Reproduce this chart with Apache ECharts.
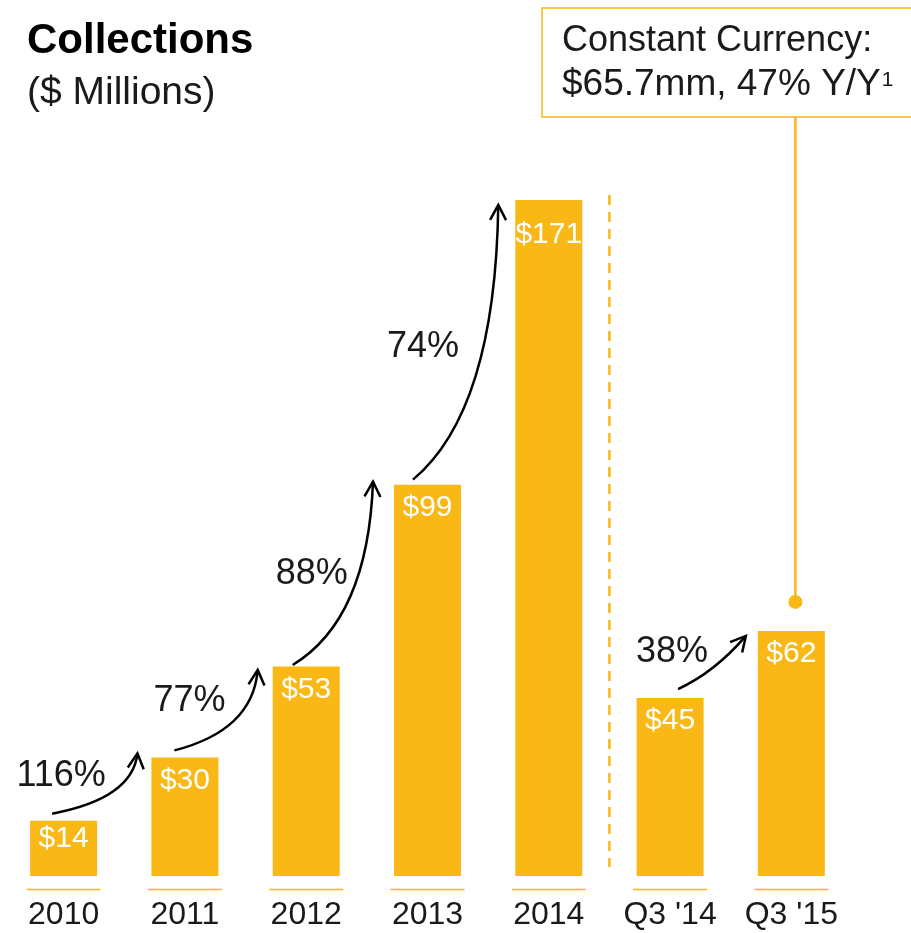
<!DOCTYPE html>
<html>
<head>
<meta charset="utf-8">
<script src="https://cdn.jsdelivr.net/npm/echarts@6/dist/echarts.min.js"></script>
<style>
  html, body { margin: 0; padding: 0; background: #ffffff; }
  #chart { width: 911px; height: 933px; }
</style>
</head>
<body>
<div id="chart"></div>
<script>
// Collections by period ($ millions)
const categories = ['2010', '2011', '2012', '2013', '2014', "Q3 '14", "Q3 '15"];
const collections = [14, 30, 53, 99, 171, 45, 62];

// Growth arrows: from which bar to the next one, and the growth they state
const growthFrom = [0, 1, 2, 3, 5];
const growthLabels = ['116%', '77%', '88%', '74%', '38%'];

// Constant-currency callout attached to the last bar
const calloutLines = ['Constant Currency:', '$65.7mm, 47% Y/Y'];
const calloutNote = '1';

const ORANGE = '#F9B815';
const INK = '#1a1a1a';
const FONT = "'Helvetica Neue', 'Liberation Sans', Arial, sans-serif";

const chart = echarts.init(document.getElementById('chart'));

// Per-bar label nudges for the shortest and tallest bars
const labelDistance = [3, 8, 8, 8, 20, 8, 8];

chart.setOption({
  animation: false,
  grid: { left: 3, right: 59, top: 85.4, bottom: 57 },
  xAxis: {
    type: 'category',
    data: categories,
    axisLine: { show: false },
    axisTick: { show: false },
    axisLabel: { fontSize: 32, color: INK, margin: 23, fontFamily: FONT }
  },
  yAxis: { type: 'value', min: 0, max: 200, show: false },
  series: [
    {
      type: 'bar',
      barWidth: 67,
      itemStyle: { color: ORANGE },
      data: collections.map((v, i) => ({ value: v, label: { distance: labelDistance[i] } })),
      label: {
        show: true,
        position: 'insideTop',
        formatter: p => '$' + p.value,
        color: '#ffffff',
        fontSize: 30,
        fontFamily: FONT,
        fontWeight: 300
      }
    },
    {
      // thin rule under each bar
      type: 'custom',
      silent: true,
      data: collections.map((v, i) => [i, 0]),
      renderItem: (params, api) => {
        const p = api.coord([api.value(0), 0]);
        return {
          type: 'line',
          shape: { x1: p[0] - 37, y1: p[1] + 13.5, x2: p[0] + 37, y2: p[1] + 13.5 },
          style: { stroke: ORANGE, lineWidth: 1.5 }
        };
      }
    }
  ]
});

const px = (i, v) => chart.convertToPixel({ seriesIndex: 0 }, [i, v]);
const barHalf = 33.5;

// Layout of each growth arrow relative to its two bars
const arrowLayout = [
  { sx: -11.5, sy: -7,   ex: -14, ey: -4,  cx: -5,  k: 0.25, lx: 9,  ly: -38 },
  { sx: -10.5, sy: -7,   ex: -15, ey: 3.5, cx: -5,  k: 0.25, lx: 15, ly: -49 },
  { sx: -13.5, sy: -1.5, ex: -21, ey: -3,  cx: -5,  k: 0.25, lx: 19, ly: -91 },
  { sx: -14.5, sy: -5,   ex: -17, ey: 5,   cx: -3,  k: 0.25, lx: 10, ly: -133 },
  { sx: 8,     sy: -9,   ex: -12, ey: 5,   cx: -31, k: 0.32, lx: -6, ly: -37 }
];

const graphics = [];

growthFrom.forEach((from, k) => {
  const to = from + 1;
  const L = arrowLayout[k];
  const a = px(from, collections[from]);
  const b = px(to, collections[to]);
  const sx = a[0] + L.sx, sy = a[1] + L.sy;
  const ex = b[0] - barHalf + L.ex, ey = b[1] + L.ey;
  const cpx = ex + L.cx, cpy = sy - L.k * (sy - ey);
  graphics.push({
    type: 'bezierCurve',
    shape: { x1: sx, y1: sy, x2: ex, y2: ey, cpx1: cpx, cpy1: cpy },
    style: { stroke: '#000', lineWidth: 2.5, fill: null }
  });
  // open arrowhead along the end tangent
  let dx = ex - cpx, dy = ey - cpy;
  const len = Math.hypot(dx, dy);
  dx /= len; dy /= len;
  const arm = 17, ang = 28 * Math.PI / 180;
  const rot = (x, y, t) => [x * Math.cos(t) - y * Math.sin(t), x * Math.sin(t) + y * Math.cos(t)];
  const r1 = rot(-dx, -dy, ang), r2 = rot(-dx, -dy, -ang);
  graphics.push({
    type: 'polyline',
    shape: { points: [[ex + r1[0] * arm, ey + r1[1] * arm], [ex, ey], [ex + r2[0] * arm, ey + r2[1] * arm]] },
    style: { stroke: '#000', lineWidth: 2.5, fill: null, lineJoin: 'miter' }
  });
  graphics.push({
    type: 'text',
    x: sx + L.lx, y: sy + L.ly,
    style: { text: growthLabels[k], fontSize: 36, fontFamily: FONT, fill: INK, align: 'center', verticalAlign: 'middle' }
  });
});

// Dashed divider between annual and quarterly bars
const base = px(0, 0)[1];
const midX = (px(4, 0)[0] + px(5, 0)[0]) / 2;
graphics.push({
  type: 'line',
  shape: { x1: midX, y1: px(4, collections[4])[1] - 5, x2: midX, y2: base - 9 },
  style: { stroke: ORANGE, lineWidth: 2.5, lineDash: [10, 7] }
});

// Title
graphics.push({
  type: 'text', x: 27, y: 41,
  style: { text: 'Collections', fontSize: 42, fontWeight: 'bold', fontFamily: FONT, fill: '#000', align: 'left', verticalAlign: 'middle' }
});
graphics.push({
  type: 'text', x: 27, y: 93,
  style: { text: '($ Millions)', fontSize: 39, fontFamily: FONT, fill: INK, align: 'left', verticalAlign: 'middle' }
});

// Callout box, leader line and dot
const last = categories.length - 1;
const lastTop = px(last, collections[last]);
const leadX = lastTop[0] + 4;
const boxTop = 8, boxBottom = 117;
graphics.push({
  type: 'rect',
  shape: { x: 542, y: boxTop, width: 420, height: boxBottom - boxTop },
  style: { stroke: ORANGE, lineWidth: 1.5, fill: '#ffffff' }
});
graphics.push({
  type: 'line',
  shape: { x1: leadX, y1: boxBottom, x2: leadX, y2: lastTop[1] - 29 },
  style: { stroke: ORANGE, lineWidth: 2.5 }
});
graphics.push({
  type: 'circle',
  shape: { cx: leadX, cy: lastTop[1] - 29, r: 7 },
  style: { fill: ORANGE }
});
graphics.push({
  type: 'text', x: 562, y: 41.5,
  style: { text: calloutLines[0], fontSize: 36, fontFamily: FONT, fill: INK, align: 'left', verticalAlign: 'middle' }
});
graphics.push({
  type: 'text', x: 562, y: 85,
  style: { text: calloutLines[1], fontSize: 37, fontFamily: FONT, fill: INK, align: 'left', verticalAlign: 'middle' }
});
const ctx = document.createElement('canvas').getContext('2d');
ctx.font = '37px ' + FONT;
const line2W = ctx.measureText(calloutLines[1]).width;
graphics.push({
  type: 'text', x: 562 + line2W + 1, y: 80.5,
  style: { text: calloutNote, fontSize: 21, fontFamily: FONT, fill: INK, align: 'left', verticalAlign: 'middle' }
});

chart.setOption({ graphic: graphics });
</script>
</body>
</html>
